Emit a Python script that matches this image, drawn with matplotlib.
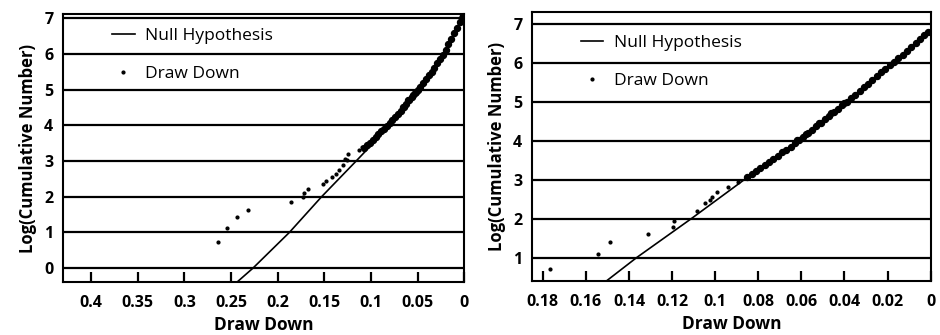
import matplotlib
matplotlib.use('Agg')
import matplotlib.pyplot as plt

# ---- left panel data ----
left_null_x = [0.2435, 0.2265, 0.1875, 0.153, 0.116, 0.0796, 0.0493, 0.0225, 0.0028, 0.001]
left_null_y = [-0.39, 0.0, 1.0, 2.0, 3.0, 4.0, 5.0, 6.0, 7.0, 7.1]
# scattered draw down points (large drawdowns)
left_dd_x = [0.2636, 0.2546, 0.2439, 0.2314, 0.186, 0.1732, 0.1718, 0.168, 0.1517, 0.148,
             0.142, 0.1375, 0.134, 0.1296, 0.126, 0.1275, 0.1243, 0.113, 0.110]
left_dd_y = [0.73, 1.13, 1.43, 1.62, 1.84, 1.99, 2.11, 2.23, 2.37, 2.43,
             2.56, 2.65, 2.74, 2.88, 3.02, 3.07, 3.21, 3.30, 3.40]
# dense draw down band (small drawdowns)
left_band_x = [0.1075, 0.104, 0.101, 0.098, 0.095, 0.092, 0.089, 0.086, 0.083, 0.080,
               0.077, 0.074, 0.071, 0.068, 0.065, 0.062, 0.059, 0.056, 0.053, 0.050,
               0.047, 0.044, 0.041, 0.038, 0.035, 0.032, 0.029, 0.026, 0.023, 0.020,
               0.017, 0.014, 0.011, 0.008, 0.005, 0.003, 0.001,
               0.066, 0.060, 0.055, 0.052]
left_band_y = [3.38, 3.45, 3.52, 3.60, 3.68, 3.76, 3.84, 3.91, 3.98, 4.06,
               4.14, 4.23, 4.32, 4.41, 4.51, 4.61, 4.71, 4.80, 4.90, 5.00,
               5.09, 5.19, 5.29, 5.40, 5.51, 5.62, 5.74, 5.86, 5.98, 6.12,
               6.27, 6.43, 6.58, 6.74, 6.90, 7.02, 7.10,
               4.52, 4.70, 4.86, 4.95]
left_xticks = [0.4, 0.35, 0.3, 0.25, 0.2, 0.15, 0.1, 0.05, 0]
left_xticklabels = ['0.4', '0.35', '0.3', '0.25', '0.2', '0.15', '0.1', '0.05', '0']
left_yticks = [0, 1, 2, 3, 4, 5, 6, 7]

# ---- right panel data ----
right_null_x = [0.1503, 0.1365, 0.1111, 0.0865, 0.0611, 0.0388, 0.0175, 0.0]
right_null_y = [0.41, 1.0, 2.0, 3.0, 4.0, 5.0, 6.0, 6.85]
right_dd_x = [0.1765, 0.1546, 0.1488, 0.1314, 0.1195, 0.119, 0.1083, 0.1046, 0.1026, 0.1015,
              0.0991, 0.0941, 0.0895]
right_dd_y = [0.71, 1.09, 1.39, 1.60, 1.79, 1.94, 2.20, 2.39, 2.47, 2.56,
              2.68, 2.80, 2.94]
right_band_x = [0.0850, 0.0830, 0.0810, 0.0790, 0.0770, 0.0750, 0.0730, 0.0710, 0.0690,
                0.0670, 0.0650, 0.0630, 0.0610, 0.0590, 0.0570, 0.0550, 0.0530, 0.0510,
                0.0490, 0.0470, 0.0450, 0.0430, 0.0410, 0.0390, 0.0370, 0.0350, 0.0330,
                0.0310, 0.0290, 0.0270, 0.0250, 0.0230, 0.0210, 0.0190, 0.0170, 0.0150,
                0.0130, 0.0110, 0.0090, 0.0070, 0.0050, 0.0030, 0.0010,
                0.062, 0.058, 0.052, 0.046, 0.040]
right_band_y = [3.06, 3.14, 3.22, 3.30, 3.38, 3.46, 3.54, 3.62, 3.70,
                3.77, 3.85, 3.93, 4.01, 4.10, 4.19, 4.28, 4.37, 4.46,
                4.55, 4.64, 4.73, 4.82, 4.91, 5.00, 5.09, 5.18, 5.28,
                5.37, 5.46, 5.56, 5.65, 5.75, 5.84, 5.93, 6.02, 6.12,
                6.21, 6.31, 6.40, 6.50, 6.60, 6.70, 6.80,
                4.02, 4.18, 4.45, 4.72, 4.98]
right_xticks = [0.18, 0.16, 0.14, 0.12, 0.1, 0.08, 0.06, 0.04, 0.02, 0]
right_xticklabels = ['0.18', '0.16', '0.14', '0.12', '0.1', '0.08', '0.06', '0.04', '0.02', '0']
right_yticks = [1, 2, 3, 4, 5, 6, 7]

plt.rcParams['font.family'] = ['Open Sans', 'DejaVu Sans']

fig = plt.figure(figsize=(9.4, 3.35), dpi=100)
ax1 = fig.add_axes([0.067, 0.158, 0.427, 0.800])
ax2 = fig.add_axes([0.566, 0.161, 0.424, 0.803])


def draw_panel(ax, null_x, null_y, dd_x, dd_y, band_x, band_y,
               xticks, xticklabels, yticks, xlim, ylim, leg_y):
    # horizontal rules at each integer
    for y in yticks:
        ax.axhline(y, color='black', lw=1.6, zorder=1)
    ax.plot(null_x, null_y, color='black', lw=1.2, label='Null Hypothesis', zorder=2)
    ax.plot(dd_x, dd_y, ls='none', marker='o', ms=2.0, mfc='black', mec='black',
            label='Draw Down', zorder=3)
    # the dense part merges into a thick band
    ax.plot(band_x, band_y, ls='none', marker='o', ms=4.3, mfc='black', mec='black', zorder=3)
    ax.set_xlim(*xlim)
    ax.set_ylim(*ylim)
    ax.set_xticks(xticks)
    ax.set_xticklabels(xticklabels, fontweight='bold', fontsize=11.5)
    ax.set_yticks(yticks)
    ax.set_yticklabels([str(v) for v in yticks], fontweight='bold', fontsize=11.5)
    ax.tick_params(axis='x', direction='in', length=7, width=1.6, pad=9)
    ax.tick_params(axis='y', direction='in', length=4, width=1.2, pad=7)
    for s in ax.spines.values():
        s.set_linewidth(1.5)
    ax.set_xlabel('Draw Down', fontweight='bold', fontsize=12.5, labelpad=4)
    ax.set_ylabel('Log(Cumulative Number)', fontweight='bold', fontsize=12, labelpad=5)
    ax.legend(loc='upper left', frameon=False, fontsize=12.5, handlelength=1.3,
              handletextpad=0.6, labelspacing=1.25, markerscale=1.0,
              bbox_to_anchor=(0.105, leg_y), borderaxespad=0)


draw_panel(ax1, left_null_x, left_null_y, left_dd_x, left_dd_y, left_band_x, left_band_y,
           left_xticks, left_xticklabels, left_yticks, (0.43, 0.0), (-0.39, 7.12), 0.975)
draw_panel(ax2, right_null_x, right_null_y, right_dd_x, right_dd_y, right_band_x, right_band_y,
           right_xticks, right_xticklabels, right_yticks, (0.185, 0.0), (0.40, 7.30), 0.94)

fig.savefig('out.png', dpi=100)
